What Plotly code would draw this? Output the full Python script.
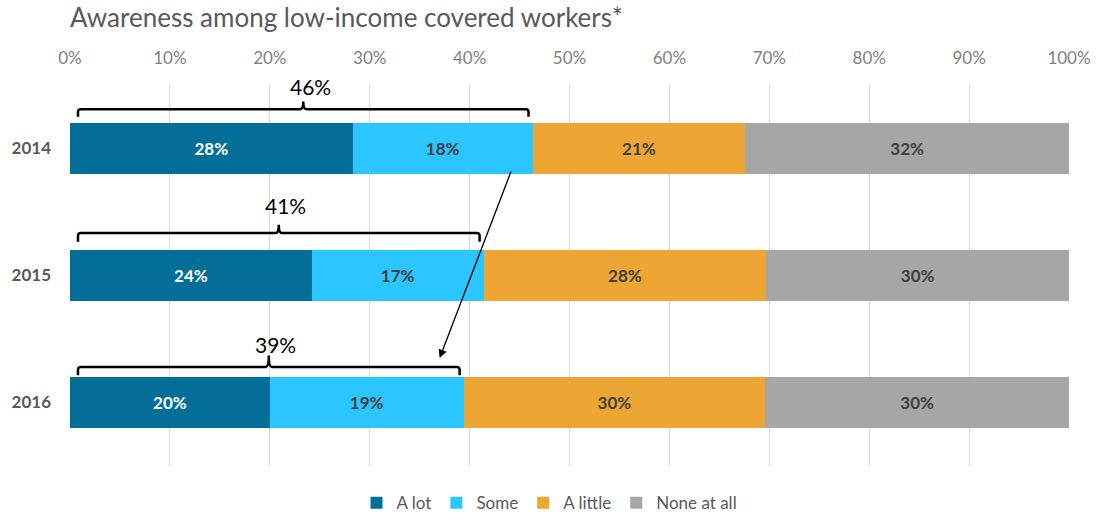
import plotly.graph_objects as go

# Survey data: share of low-income covered workers by awareness level
years = ["2014", "2015", "2016"]
a_lot = [28.3, 24.2, 20.0]
some = [18.0, 17.2, 19.4]
a_little = [21.3, 28.3, 30.2]
none_at_all = [32.4, 30.3, 30.4]
pct_ticks = list(range(0, 101, 10))

series = [
    ("A lot", a_lot, "#036E98", "white"),
    ("Some", some, "#2BC5FF", "#404040"),
    ("A little", a_little, "#EDA633", "#404040"),
    ("None at all", none_at_all, "#A6A6A6", "#404040"),
]

FONT = "Lato"
ypos = list(range(len(years)))

fig = go.Figure()
for name, vals, color, txtcol in series:
    fig.add_trace(go.Bar(
        name=name, x=vals, y=ypos, orientation="h", width=0.4,
        marker=dict(color=color, line=dict(width=0)),
        texttemplate="%{x:.0f}%", textposition="inside", insidetextanchor="middle",
        textfont=dict(family=FONT, size=17, color=txtcol, weight="bold"),
        hoverinfo="skip",
    ))

# Brackets spanning "A lot" + "Some" for each year, with the combined share above
bracket_h = [-0.31, -0.335, -0.28]   # horizontal line offset from bar centre
bracket_end = [-0.25, -0.265, -0.215]
bracket_tip = [-0.37, -0.40, -0.37]
label_off = [-0.49, -0.55, -0.46]
left = 0.8
for i, (l, s) in enumerate(zip(a_lot, some)):
    total = l + s
    right = total - 0.4
    mid = (left + right) / 2
    yh = i + bracket_h[i]
    ye = i + bracket_end[i]
    yt = i + bracket_tip[i]
    r = 0.3
    ry = 0.02
    path = (
        f"M {left},{ye} L {left},{yh + ry} Q {left},{yh} {left + r},{yh} "
        f"L {mid - r},{yh} Q {mid},{yh} {mid},{yt} Q {mid},{yh} {mid + r},{yh} "
        f"L {right - r},{yh} Q {right},{yh} {right},{yh + ry} L {right},{ye}"
    )
    fig.add_shape(type="path", path=path, xref="x", yref="y",
                  line=dict(color="black", width=2.5))
    fig.add_annotation(x=mid + 0.7, y=i + label_off[i], text=f"{round(total)}%",
                       showarrow=False, xref="x", yref="y",
                       font=dict(family=FONT, size=21, color="black"))

# Arrow from the 2014 combined share down to the 2016 bracket
fig.add_annotation(
    x=37.0, y=1.65, ax=44.2, ay=0.17, xref="x", yref="y", axref="x", ayref="y",
    showarrow=True, arrowhead=2, arrowsize=1.3, arrowwidth=1.3, arrowcolor="black",
    text="",
)

fig.update_layout(
    barmode="stack",
    width=1097, height=516,
    margin=dict(l=70, r=28, t=85, b=50, autoexpand=False),
    paper_bgcolor="white", plot_bgcolor="white",
    title=dict(text="Awareness among low-income covered workers*", x=0, xref="paper",
               xanchor="left", y=0.965, yanchor="middle",
               font=dict(family=FONT, size=26, color="#595959")),
    xaxis=dict(range=[0, 100], side="top", tickvals=pct_ticks,
               ticktext=[f"{v}%" for v in pct_ticks], automargin=False,
               showgrid=True, gridcolor="#D9D9D9", gridwidth=1,
               zeroline=False, showline=False, ticks="", ticklabelstandoff=17,
               tickfont=dict(family=FONT, size=17, color="#7F7F7F"), fixedrange=True),
    yaxis=dict(range=[2.5, -0.5], tickvals=ypos, ticktext=years, showgrid=False,
               zeroline=False, showline=False, ticks="", ticklabelstandoff=18,
               automargin=False,
               tickfont=dict(family=FONT, size=17, color="#595959", weight="bold")),
    legend=dict(orientation="h", x=0.48, xanchor="center",
                yref="container", y=0.025, yanchor="middle",
                font=dict(family=FONT, size=17, color="#595959"),
                itemwidth=30, traceorder="normal"),
    showlegend=True,
)

fig.write_html("out.html")
